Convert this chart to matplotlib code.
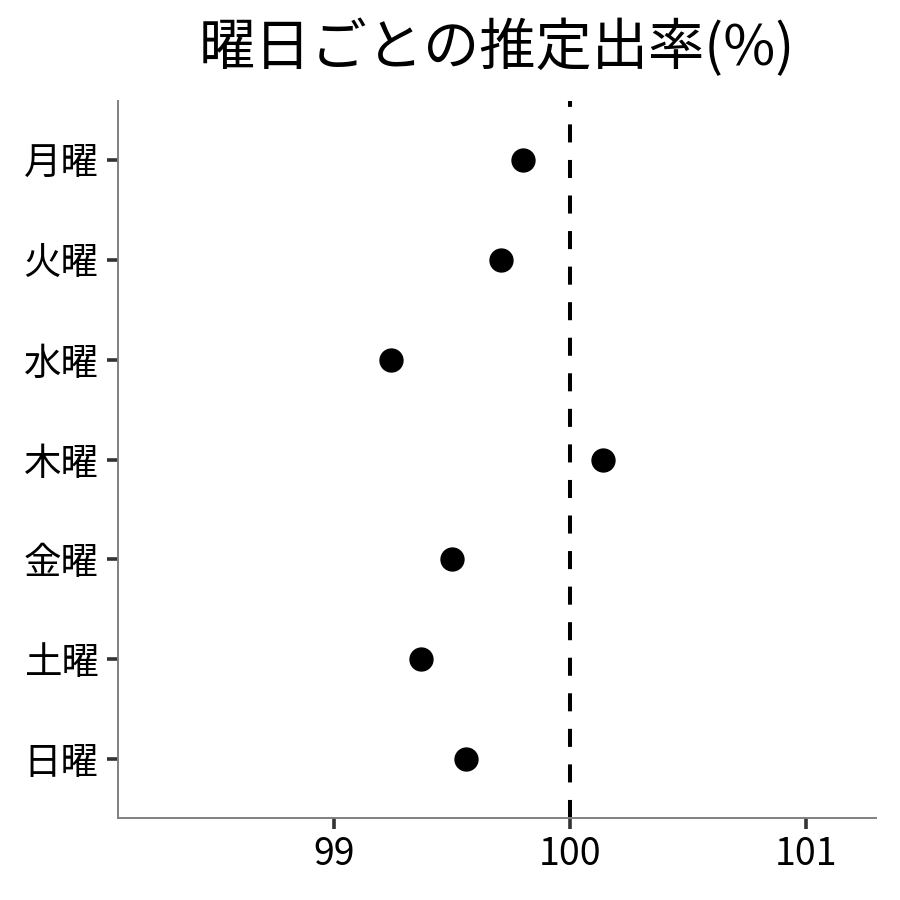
import matplotlib
matplotlib.use("Agg")
import matplotlib.pyplot as plt

plt.rcParams['font.family'] = ['Noto Sans CJK JP', 'DejaVu Sans']
plt.rcParams['lines.scale_dashes'] = False

days = ['月曜', '火曜', '水曜', '木曜', '金曜', '土曜', '日曜']
rates = [99.80, 99.71, 99.24, 100.14, 99.50, 99.37, 99.56]
xticks = [99, 100, 101]
title = '曜日ごとの推定出率(%)'

fig = plt.figure(figsize=(9, 9), dpi=100)
ax = fig.add_axes([118/900, 1-818/900, (876-118)/900, (818-101)/900])

ypos = list(range(len(days)))
ax.plot(rates, ypos, 'o', color='black', markersize=16.5, zorder=3)
ax.axvline(100, color='black', linewidth=2.9, linestyle=(0, (13, 12.6)), zorder=2)

ax.set_xlim(98.085, 101.297)
ax.set_ylim(6.59, -0.59)
ax.set_yticks(ypos)
ax.set_yticklabels(days)
ax.set_xticks(xticks)
ax.set_xticklabels([str(v) for v in xticks])
ax.tick_params(axis='both', labelsize=27, length=8, width=2.6, color='#333333', pad=4)
ax.tick_params(axis='y', pad=6)

for s in ['top', 'right']:
    ax.spines[s].set_visible(False)
for s in ['left', 'bottom']:
    ax.spines[s].set_color('#808080')
    ax.spines[s].set_linewidth(1.4)

ax.set_title(title, fontsize=40.5, pad=26)

fig.savefig('out.png', dpi=100)
